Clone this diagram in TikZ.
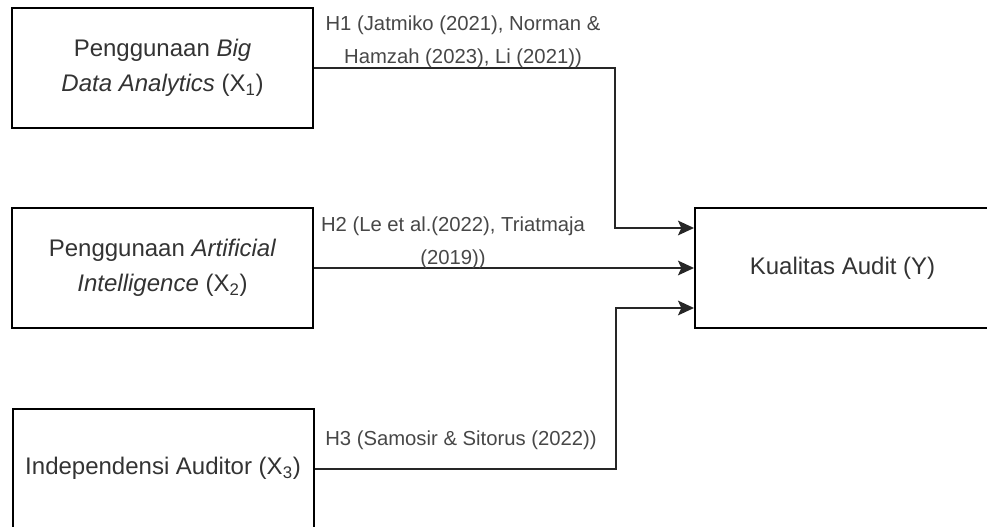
\documentclass[tikz,border=0pt]{standalone}
\usepackage{fontspec}
\setmainfont{Liberation Sans}
\usetikzlibrary{arrows.meta}

\begin{document}
\begin{tikzpicture}[x=0.75pt,y=-0.75pt,>={Stealth[length=12pt,width=11pt,inset=2.5pt]},
  var/.style={draw,line width=1.5pt,inner sep=0pt,align=center,text=black!80,
    minimum width=225.75pt,minimum height=90pt,font=\fontsize{18}{26}\selectfont},
  hyp/.style={align=center,text=black!72,font=\fontsize{15.2}{25}\selectfont},
  link/.style={->,line width=1.5pt,black!85}]
  \useasboundingbox (0,0) rectangle (987,527);
  % variables
  \node[var] (bda) at (162.5,68) {Penggunaan \textit{Big}\\\textit{Data Analytics} (X\textsubscript{1})};
  \node[var] (ai)  at (162.5,268) {Penggunaan \textit{Artificial}\\\textit{Intelligence} (X\textsubscript{2})};
  \node[var] (ind) at (163,468.5) {Independensi Auditor (X\textsubscript{3})};
  \node[var,minimum width=221.25pt] (ky) at (842.5,268) {Kualitas Audit (Y)};
  % hypotheses
  \draw[link] (bda.east) -- ++(301,0) |- ([yshift=30pt]ky.west);
  \draw[link] (ai.east) -- (ky.west);
  \draw[link] (ind.east) -- ++(301,0) |- ([yshift=-30pt]ky.west);
  \node[hyp] (h1) at (463,42)  {H1 (Jatmiko (2021), Norman \&\\Hamzah (2023), Li (2021))};
  \node[hyp] (h2) at (453,243) {H2 (Le et al.(2022), Triatmaja\\(2019))};
  \node[hyp] (h3) at (461,440) {H3 (Samosir \& Sitorus (2022))};
\end{tikzpicture}
\end{document}
